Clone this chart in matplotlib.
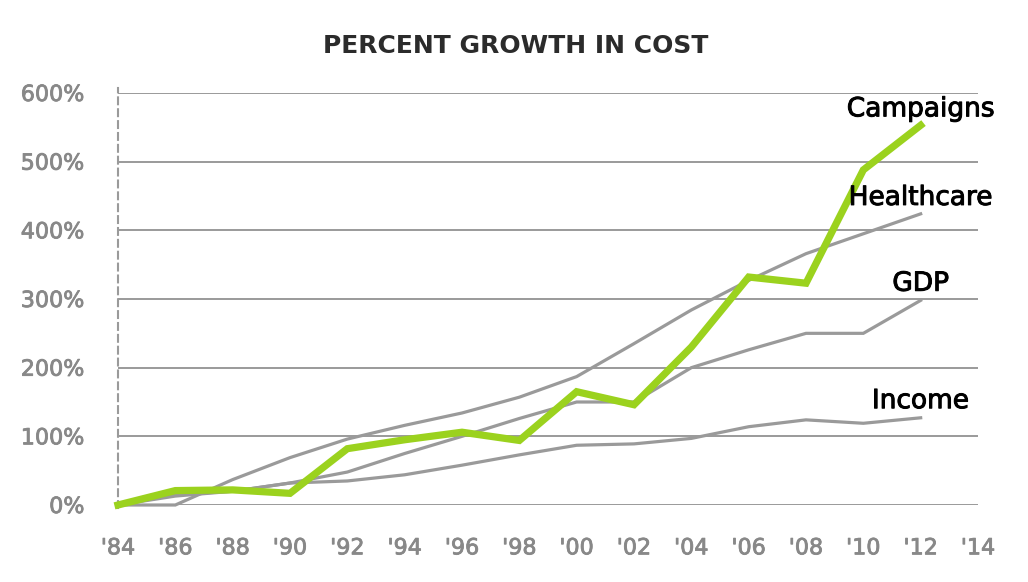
import matplotlib
matplotlib.use("Agg")
import matplotlib.pyplot as plt
import matplotlib.patheffects as pe

years = [1984, 1986, 1988, 1990, 1992, 1994, 1996, 1998, 2000, 2002, 2004, 2006, 2008, 2010, 2012]
campaigns = [0, 21, 22, 17, 82, 95, 106, 94, 165, 146, 230, 332, 323, 488, 553]
healthcare = [0, 0, 37, 69, 96, 116, 134, 157, 187, 235, 284, 327, 366, 395, 424]
gdp = [0, 15, 20, 32, 48, 75, 100, 126, 150, 150, 200, 226, 250, 250, 298]
income = [0, 13, 20, 32, 35, 44, 58, 73, 87, 89, 97, 114, 124, 119, 127]

xticks = list(range(1984, 2015, 2))
xtick_labels = ["'84", "'86", "'88", "'90", "'92", "'94", "'96", "'98", "'00", "'02",
                "'04", "'06", "'08", "'10", "'12", "'14"]
yticks = [0, 100, 200, 300, 400, 500, 600]
ytick_labels = ["0%", "100%", "200%", "300%", "400%", "500%", "600%"]

series_labels = ["Campaigns", "Healthcare", "GDP", "Income"]
label_y = [566, 437, 312, 141]

plt.rcParams['font.family'] = ['DejaVu Sans']

fig = plt.figure(figsize=(10.28, 5.82), dpi=100)
ax = fig.add_axes([118/1028, 1-505/582, 860/1028, 412/582])

grey = '#9a9a9a'
green = '#9bd21e'

for y in yticks:
    ax.axhline(y, color=grey, lw=1.4, zorder=1)

for s in (income, gdp, healthcare):
    ax.plot(years, s, color=grey, lw=2.3, zorder=2, clip_on=False, solid_joinstyle='miter')
ax.plot(years, campaigns, color=green, lw=5.2, zorder=3, clip_on=False, solid_joinstyle='miter')

for lab, ly in zip(series_labels, label_y):
    ax.text(2012, ly, lab, ha='center', va='baseline', fontsize=19, color='black', zorder=4,
            path_effects=[pe.withStroke(linewidth=0.7, foreground='black')])

ax.set_xlim(1984, 2014)
ax.set_ylim(0, 600)
ax.set_xticks(xticks)
ax.set_xticklabels(xtick_labels)
ax.set_yticks(yticks)
ax.set_yticklabels(ytick_labels)
ax.tick_params(axis='both', length=0, labelsize=16, labelcolor='#888888')
ax.tick_params(axis='y', pad=24)
ax.tick_params(axis='x', pad=24)
for t in ax.get_xticklabels() + ax.get_yticklabels():
    t.set_path_effects([pe.withStroke(linewidth=0.6, foreground='#888888')])

for side in ('top', 'right', 'bottom'):
    ax.spines[side].set_visible(False)
ax.spines['left'].set_color(grey)
ax.spines['left'].set_linewidth(1.5)
ax.spines['left'].set_linestyle((0, (3.3, 2.4)))
ax.spines['left'].set_bounds(-5, 608)

fig.text(0.5015, 1-53/582, "PERCENT GROWTH IN COST", ha='center', va='baseline',
         fontsize=18, fontweight='bold', color='#2b2b2b')

fig.savefig('out.png', dpi=100)
